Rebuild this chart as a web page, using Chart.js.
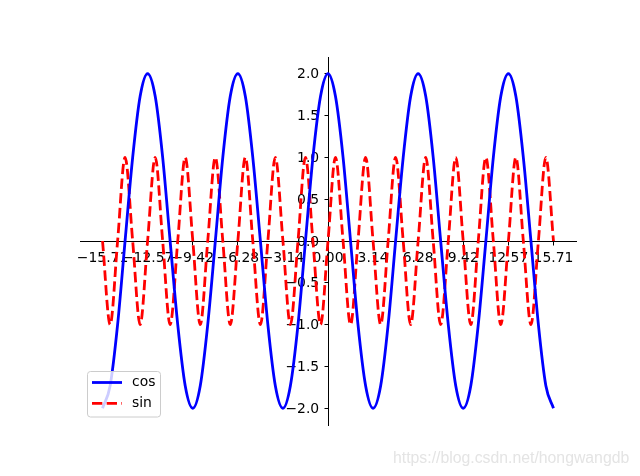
<!DOCTYPE html>
<html lang="en">
<head>
  <meta charset="UTF-8" />
  <title>cos / sin</title>
  <script src="https://cdn.jsdelivr.net/npm/chart.js"></script>
  <style>
    body { margin: 0; background: #fff; }
    .wrap { position: relative; width: 640px; height: 476px; }
    .mark {
      position: absolute; left: 393px; top: 449px;
      font-family: "Liberation Sans", sans-serif; font-size: 15.8px; color: #e4e4e4;
    }
  </style>
</head>
<body>
  <div class="wrap">
    <canvas id="plot" width="640" height="476"></canvas>
    <div class="mark">https://blog.csdn.net/hongwangdb</div>
  </div>

  <script>
    // sample positions (-5pi .. 5pi)
    const xs = [
      -15.71, -15.18, -14.66, -14.14, -13.61, -13.09,
      -12.57, -12.04, -11.52, -11.00, -10.47, -9.95,
      -9.42, -8.90, -8.38, -7.85, -7.33, -6.81,
      -6.28, -5.76, -5.24, -4.71, -4.19, -3.67,
      -3.14, -2.62, -2.09, -1.57, -1.05, -0.52,
      0,
      0.52, 1.05, 1.57, 2.09, 2.62, 3.14,
      3.67, 4.19, 4.71, 5.24, 5.76, 6.28,
      6.81, 7.33, 7.85, 8.38, 8.90, 9.42,
      9.95, 10.47, 11.00, 11.52, 12.04, 12.57,
      13.09, 13.61, 14.14, 14.66, 15.18, 15.71
    ];

    const cosValues = [
      -2, -1.73, -1, 0, 1, 1.73, 2, 1.73, 1, 0, -1, -1.73,
      -2, -1.73, -1, 0, 1, 1.73, 2, 1.73, 1, 0, -1, -1.73,
      -2, -1.73, -1, 0, 1, 1.73, 2, 1.73, 1, 0, -1, -1.73,
      -2, -1.73, -1, 0, 1, 1.73, 2, 1.73, 1, 0, -1, -1.73,
      -2, -1.73, -1, 0, 1, 1.73, 2, 1.73, 1, 0, -1, -1.73,
      -2
    ];

    const sinValues = [
      0, -1, 0, 1, 0, -1, 0, 1, 0, -1, 0, 1,
      0, -1, 0, 1, 0, -1, 0, 1, 0, -1, 0, 1,
      0, -1, 0, 1, 0, -1, 0, 1, 0, -1, 0, 1,
      0, -1, 0, 1, 0, -1, 0, 1, 0, -1, 0, 1,
      0, -1, 0, 1, 0, -1, 0, 1, 0, -1, 0, 1,
      0
    ];

    const xTicks = [-15.70796, -12.56637, -9.42478, -6.28319, -3.14159, 0,
                    3.14159, 6.28319, 9.42478, 12.56637, 15.70796];
    const yTicks = [-2, -1.5, -1, -0.5, 0, 0.5, 1, 1.5, 2];

    const tickFont = { family: 'DejaVu Sans', size: 13.9 };

    // matplotlib style numbers, with a real minus sign
    function fmt(v, digits) {
      return v.toFixed(digits).replace('-', '\u2212');
    }

    // legend box in the lower left corner, as matplotlib draws it
    const legendBox = {
      id: 'legendBox',
      afterDraw(chart) {
        const c = chart.ctx;
        c.save();
        c.beginPath();
        c.roundRect(87.5, 371.5, 73, 45.5, 3);
        c.fillStyle = 'rgba(255,255,255,0.8)';
        c.fill();
        c.strokeStyle = '#cccccc';
        c.lineWidth = 1;
        c.stroke();
        chart.data.datasets.forEach((ds, i) => {
          const y = 382.5 + i * 20.8;
          c.beginPath();
          c.setLineDash(ds.borderDash || []);
          c.moveTo(92, y);
          c.lineTo(122, y);
          c.strokeStyle = ds.borderColor;
          c.lineWidth = ds.borderWidth;
          c.stroke();
          c.setLineDash([]);
          c.fillStyle = '#000';
          c.font = '13.9px "DejaVu Sans"';
          c.textBaseline = 'middle';
          c.fillText(ds.label, 132, y);
        });
        c.restore();
      }
    };

    new Chart(document.getElementById('plot').getContext('2d'), {
      type: 'line',
      data: {
        datasets: [
          {
            label: 'cos',
            data: xs.map((x, i) => ({ x, y: cosValues[i] })),
            borderColor: '#0000ff',
            borderWidth: 2.8,
            pointRadius: 0,
            cubicInterpolationMode: 'monotone',
            fill: false
          },
          {
            label: 'sin',
            data: xs.map((x, i) => ({ x, y: sinValues[i] })),
            borderColor: '#ff0000',
            borderWidth: 2.8,
            borderDash: [10.3, 4.4],
            pointRadius: 0,
            cubicInterpolationMode: 'monotone',
            fill: false
          }
        ]
      },
      options: {
        responsive: false,
        animation: false,
        layout: { padding: { left: 80, right: 64, top: 57, bottom: 51 } },
        scales: {
          x: {
            type: 'linear',
            min: -17.28,
            max: 17.28,
            position: { y: 0 },
            afterBuildTicks: s => { s.ticks = xTicks.map(v => ({ value: v })); },
            ticks: {
              callback: v => fmt(v, 2),
              color: '#000',
              font: tickFont,
              padding: 5.5,
              maxRotation: 0,
              autoSkip: false
            },
            grid: { drawOnChartArea: false, drawTicks: true, tickLength: 3.5, color: '#000' },
            border: { display: true, color: '#000', width: 1 }
          },
          y: {
            type: 'linear',
            min: -2.2,
            max: 2.2,
            position: { x: 0 },
            afterBuildTicks: s => { s.ticks = yTicks.map(v => ({ value: v })); },
            ticks: {
              // padding is ignored for a centred axis, trailing spaces push the text off the spine
              callback: v => fmt(v, 1) + '  ',
              color: '#000',
              font: tickFont,
              labelOffset: 1,
              autoSkip: false
            },
            grid: { drawOnChartArea: false, drawTicks: true, tickLength: 3.5, color: '#000' },
            border: { display: true, color: '#000', width: 1 }
          }
        },
        plugins: {
          legend: { display: false },
          tooltip: { enabled: false }
        }
      },
      plugins: [legendBox]
    });
  </script>
</body>
</html>
